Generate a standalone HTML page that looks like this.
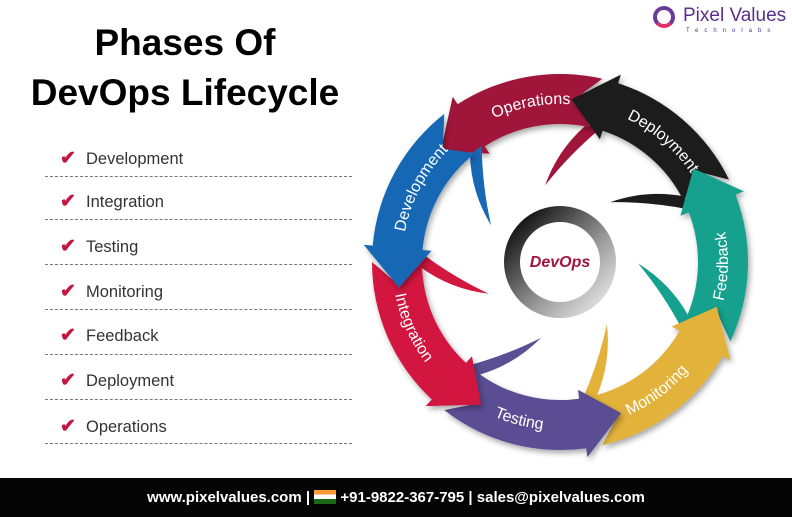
<!DOCTYPE html>
<html><head><meta charset="utf-8"><style>
body{margin:0;width:792px;height:517px;background:#fff;position:relative;overflow:hidden;font-family:"Liberation Sans",sans-serif}
.t{position:absolute;left:0;width:370px;text-align:center;font-weight:bold;font-size:37px;color:#000}
.it{position:absolute;left:60px;font-size:16.5px;color:#333}
.it b{color:#c4173f;font-size:19px;display:inline-block;width:26px}
.ln{position:absolute;left:45px;width:307px;border-top:1px dashed #777}
.ft{position:absolute;left:0;top:478px;width:792px;height:39px;background:#050505;color:#fff;font-weight:bold;font-size:15px;text-align:center;line-height:39px}
</style></head><body>
<div class="t" style="top:22px">Phases Of</div>
<div class="t" style="top:72px">DevOps Lifecycle</div>
<div class="it" style="top:147px"><b>✔</b>Development</div><div class="ln" style="top:176px"></div>
<div class="it" style="top:190px"><b>✔</b>Integration</div><div class="ln" style="top:219px"></div>
<div class="it" style="top:235px"><b>✔</b>Testing</div><div class="ln" style="top:264px"></div>
<div class="it" style="top:280px"><b>✔</b>Monitoring</div><div class="ln" style="top:309px"></div>
<div class="it" style="top:324px"><b>✔</b>Feedback</div><div class="ln" style="top:354px"></div>
<div class="it" style="top:369px"><b>✔</b>Deployment</div><div class="ln" style="top:399px"></div>
<div class="it" style="top:415px"><b>✔</b>Operations</div><div class="ln" style="top:443px"></div>
<div style="position:absolute;left:653px;top:6px;width:22px;height:22px;border:4px solid #6a3a9a;border-bottom-color:#e0306a;border-radius:50%;box-sizing:border-box"></div>
<div style="position:absolute;left:683px;top:5px;font-size:19px;color:#5b2d8e">Pixel Values</div>
<div style="position:absolute;left:686px;top:28px;font-size:6px;letter-spacing:6px;color:#5b2d8e">Technolabs</div>
<svg id="s" width="792" height="517" style="position:absolute;left:0;top:0"></svg>
<div class="ft">www.pixelvalues.com | <span style="display:inline-block;width:22px;height:14px;vertical-align:-2px;background:linear-gradient(#f93 33%,#fff 33% 66%,#186a18 66%)"></span> +91-9822-367-795 | sales@pixelvalues.com</div>
<script>
var cx=560,cy=262,R=188,r=138,m=(R+r)/2,svg='';
function P(a,rad){a=a*Math.PI/180;return (cx+rad*Math.cos(a)).toFixed(1)+','+(cy+rad*Math.sin(a)).toFixed(1);}
var seg=[['Development',232,180,'#1768b5',1],['Integration',180,128,'#d3173f',0],['Testing',128,77,'#5a4e94',0],['Monitoring',77,25,'#e2b23a',0],['Feedback',25,-26,'#16a08e',0],['Deployment',334,283,'#1c1c1c',1],['Operations',283,232,'#a0153a',1]];
svg+='<defs><filter id="sh"><feDropShadow dx="2" dy="3" stdDeviation="3" flood-opacity="0.35"/></filter><linearGradient id="g" x1="0" y1="0" x2="1" y2="1"><stop offset="0" stop-color="#000"/><stop offset="0.6" stop-color="#999"/><stop offset="1" stop-color="#eee"/></linearGradient></defs>';
var out=[];
seg.forEach(function(s,i){
 var a1=s[1],a0=s[2],b=a0+5,n=8,o='';
 var d='M'+P(a1,R)+' A'+R+','+R+' 0 0 0 '+P(b,R)+' L'+P(b,R+9)+' L'+P(a0-9,m)+' L'+P(b,r-9)+' L'+P(b,r)+' A'+r+','+r+' 0 0 1 '+P(a1,r)+' L'+P(a1-n,m)+' Z';
 var t=a1-2;
 o+='<path d="M'+P(t,r+2)+' Q'+P(t-12,r-25)+' '+P(t-22,r-60)+' Q'+P(t-6,r-30)+' '+P(t+6,r+2)+' Z" fill="'+s[3]+'"/>';
 o+='<path d="'+d+'" fill="'+s[3]+'" filter="url(#sh)"/>';
 var mid=(a1+a0)/2+2,span=28,rr=s[4]?m-5:m+5;
 var p=s[4]?('M'+P(mid-span,rr)+' A'+rr+','+rr+' 0 0 1 '+P(mid+span,rr)):('M'+P(mid+span,rr)+' A'+rr+','+rr+' 0 0 0 '+P(mid-span,rr));
 o+='<path id="p'+i+'" d="'+p+'" fill="none"/><text font-size="16" fill="#fff" font-family="Liberation Sans"><textPath href="#p'+i+'" startOffset="50%" text-anchor="middle">'+s[0]+'</textPath></text>';
 out.push(o);
});
svg+=out.reverse().join('');
svg+='<circle cx="'+cx+'" cy="'+cy+'" r="48" fill="none" stroke="url(#g)" stroke-width="16"/>';
svg+='<text x="'+cx+'" y="'+(cy+5)+'" text-anchor="middle" font-size="16" font-weight="bold" font-style="italic" fill="#a0153a" font-family="Liberation Sans">DevOps</text>';
document.getElementById('s').innerHTML=svg;
</script>
</body></html>
